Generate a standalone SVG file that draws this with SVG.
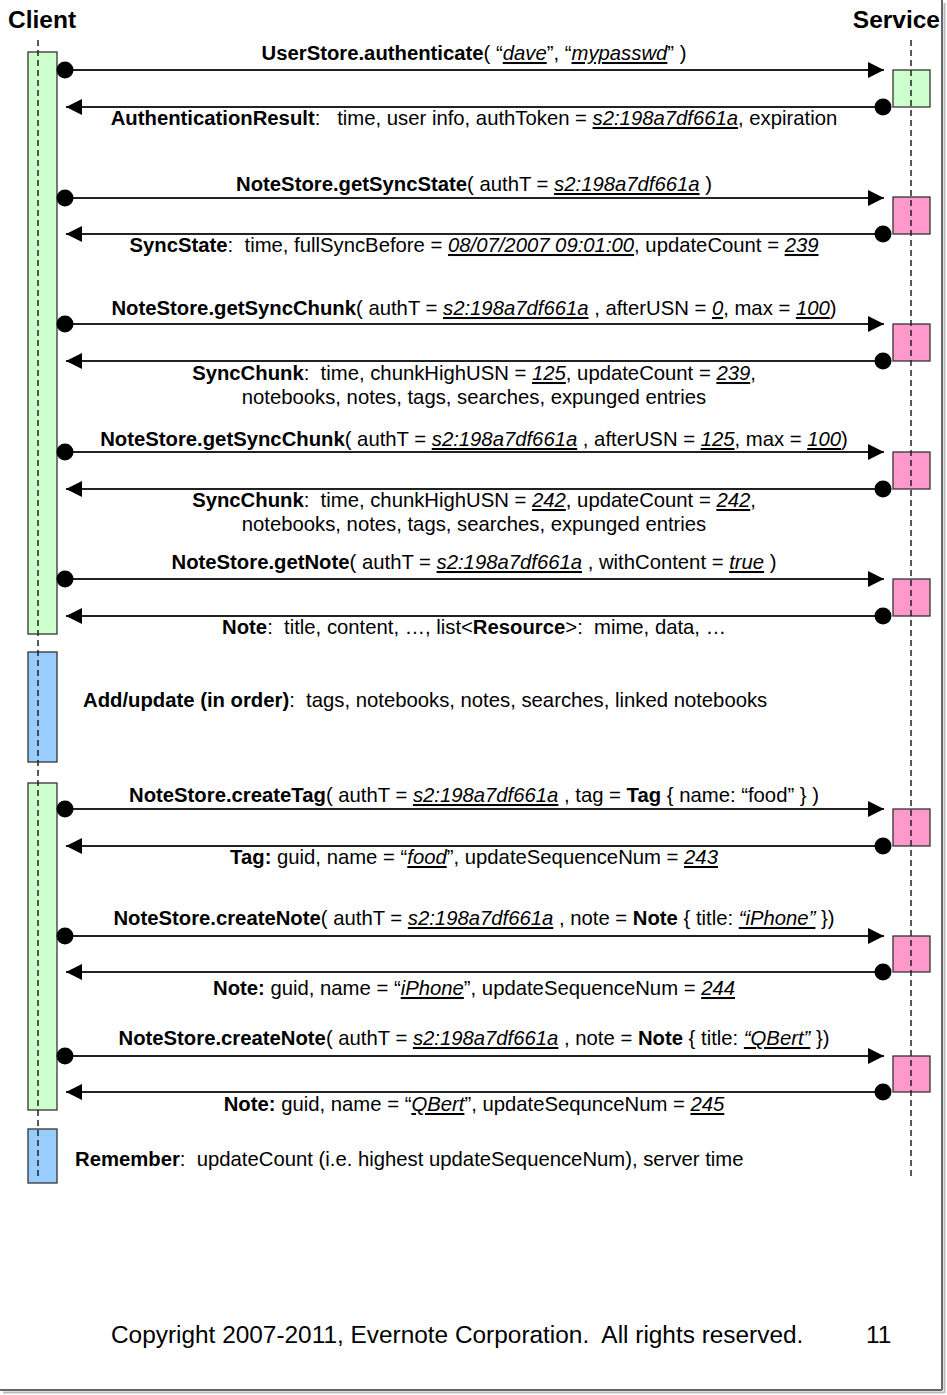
<svg xmlns="http://www.w3.org/2000/svg" width="947" height="1395" viewBox="0 0 947 1395">
<style>
text{font-family:"Liberation Sans",Arial,sans-serif;font-size:20.3px;fill:#000;white-space:pre}
.c{text-anchor:middle}
.b{font-weight:bold}
.v{font-style:italic;text-decoration:underline}
.title{font-size:24.5px;font-weight:bold}
.foot{font-size:24.4px}
.life{stroke:#222;stroke-width:1.5;stroke-dasharray:6 4;fill:none}
.act{stroke:#333;stroke-width:1.3}
.g{fill:#ccffcc}
.bl{fill:#99ccff}
.p{fill:#ff99cc}
.msg{stroke:#222;stroke-width:2;fill:none}
</style>
<defs>
<marker id="ah" viewBox="0 0 16 16" refX="16" refY="8" markerWidth="16" markerHeight="16" markerUnits="userSpaceOnUse" orient="auto">
<path d="M0,0 L16,8 L0,16 Z" fill="#000"/>
</marker>
<marker id="dot" viewBox="0 0 18 18" refX="9" refY="9" markerWidth="18" markerHeight="18" markerUnits="userSpaceOnUse" orient="auto">
<circle cx="9" cy="9" r="8.5" fill="#000"/>
</marker>
</defs>
<rect width="947" height="1395" fill="#fff"/>
<g id="frame">
<line x1="942" y1="0" x2="942" y2="1390" stroke="#666" stroke-width="2"/>
<line x1="0" y1="1390" x2="942" y2="1390" stroke="#666" stroke-width="2"/>
<line x1="944.5" y1="3" x2="944.5" y2="1393" stroke="#bbb" stroke-width="2"/>
<line x1="3" y1="1392.5" x2="944" y2="1392.5" stroke="#bbb" stroke-width="2"/>
</g>
<g id="client">
<text x="8" y="28" class="title">Client</text>
<rect class="act g" x="28" y="52" width="29" height="582"/>
<rect class="act bl" x="28" y="652" width="29" height="110"/>
<rect class="act g" x="28" y="783" width="29" height="327"/>
<rect class="act bl" x="28" y="1129" width="29" height="54"/>
<line class="life" x1="38" y1="40" x2="38" y2="1180"/>
</g>
<g id="service">
<text x="940" y="28" class="title" text-anchor="end">Service</text>
<rect class="act g" x="893" y="70" width="37" height="37"/>
<rect class="act p" x="893" y="197" width="37" height="37"/>
<rect class="act p" x="893" y="324" width="37" height="37"/>
<rect class="act p" x="893" y="452" width="37" height="37"/>
<rect class="act p" x="893" y="579" width="37" height="37"/>
<rect class="act p" x="893" y="809" width="37" height="37"/>
<rect class="act p" x="893" y="936" width="37" height="36"/>
<rect class="act p" x="893" y="1056" width="37" height="36"/>
<line class="life" x1="911" y1="40" x2="911" y2="1178"/>
</g>
<g id="connectors">
<line class="msg" x1="65" y1="70" x2="884" y2="70" marker-start="url(#dot)" marker-end="url(#ah)"/>
<line class="msg" x1="883" y1="107" x2="66" y2="107" marker-start="url(#dot)" marker-end="url(#ah)"/>
<line class="msg" x1="65" y1="198" x2="884" y2="198" marker-start="url(#dot)" marker-end="url(#ah)"/>
<line class="msg" x1="883" y1="234" x2="66" y2="234" marker-start="url(#dot)" marker-end="url(#ah)"/>
<line class="msg" x1="65" y1="324" x2="884" y2="324" marker-start="url(#dot)" marker-end="url(#ah)"/>
<line class="msg" x1="883" y1="361" x2="66" y2="361" marker-start="url(#dot)" marker-end="url(#ah)"/>
<line class="msg" x1="65" y1="452" x2="884" y2="452" marker-start="url(#dot)" marker-end="url(#ah)"/>
<line class="msg" x1="883" y1="489" x2="66" y2="489" marker-start="url(#dot)" marker-end="url(#ah)"/>
<line class="msg" x1="65" y1="579" x2="884" y2="579" marker-start="url(#dot)" marker-end="url(#ah)"/>
<line class="msg" x1="883" y1="616" x2="66" y2="616" marker-start="url(#dot)" marker-end="url(#ah)"/>
<line class="msg" x1="65" y1="809" x2="884" y2="809" marker-start="url(#dot)" marker-end="url(#ah)"/>
<line class="msg" x1="883" y1="846" x2="66" y2="846" marker-start="url(#dot)" marker-end="url(#ah)"/>
<line class="msg" x1="65" y1="936" x2="884" y2="936" marker-start="url(#dot)" marker-end="url(#ah)"/>
<line class="msg" x1="883" y1="972" x2="66" y2="972" marker-start="url(#dot)" marker-end="url(#ah)"/>
<line class="msg" x1="65" y1="1056" x2="884" y2="1056" marker-start="url(#dot)" marker-end="url(#ah)"/>
<line class="msg" x1="883" y1="1092" x2="66" y2="1092" marker-start="url(#dot)" marker-end="url(#ah)"/>
</g>
<g id="labels">
<text x="474" y="60" class="c"><tspan class="b">UserStore.authenticate</tspan>( “<tspan class="v">dave</tspan>”, “<tspan class="v">mypasswd</tspan>” )</text>
<text x="474" y="125" class="c"><tspan class="b">AuthenticationResult</tspan>:   time, user info, authToken = <tspan class="v">s2:198a7df661a</tspan>, expiration</text>
<text x="474" y="191" class="c"><tspan class="b">NoteStore.getSyncState</tspan>( authT = <tspan class="v">s2:198a7df661a</tspan> )</text>
<text x="474" y="252" class="c"><tspan class="b">SyncState</tspan>:  time, fullSyncBefore = <tspan class="v">08/07/2007 09:01:00</tspan>, updateCount = <tspan class="v">239</tspan></text>
<text x="474" y="315" class="c"><tspan class="b">NoteStore.getSyncChunk</tspan>( authT = <tspan class="v">s2:198a7df661a</tspan> , afterUSN = <tspan class="v">0</tspan>, max = <tspan class="v">100</tspan>)</text>
<text x="474" y="380" class="c"><tspan class="b">SyncChunk</tspan>:  time, chunkHighUSN = <tspan class="v">125</tspan>, updateCount = <tspan class="v">239</tspan>,</text>
<text x="474" y="404" class="c">notebooks, notes, tags, searches, expunged entries</text>
<text x="474" y="446" class="c"><tspan class="b">NoteStore.getSyncChunk</tspan>( authT = <tspan class="v">s2:198a7df661a</tspan> , afterUSN = <tspan class="v">125</tspan>, max = <tspan class="v">100</tspan>)</text>
<text x="474" y="507" class="c"><tspan class="b">SyncChunk</tspan>:  time, chunkHighUSN = <tspan class="v">242</tspan>, updateCount = <tspan class="v">242</tspan>,</text>
<text x="474" y="531" class="c">notebooks, notes, tags, searches, expunged entries</text>
<text x="474" y="569" class="c"><tspan class="b">NoteStore.getNote</tspan>( authT = <tspan class="v">s2:198a7df661a</tspan> , withContent = <tspan class="v">true</tspan> )</text>
<text x="474" y="634" class="c"><tspan class="b">Note</tspan>:  title, content, …, list&lt;<tspan class="b">Resource</tspan>&gt;:  mime, data, …</text>
<text x="83" y="707"><tspan class="b">Add/update (in order)</tspan>:  tags, notebooks, notes, searches, linked notebooks</text>
<text x="474" y="802" class="c"><tspan class="b">NoteStore.createTag</tspan>( authT = <tspan class="v">s2:198a7df661a</tspan> , tag = <tspan class="b">Tag</tspan> { name: “food” } )</text>
<text x="474" y="864" class="c"><tspan class="b">Tag:</tspan> guid, name = “<tspan class="v">food</tspan>”, updateSequenceNum = <tspan class="v">243</tspan></text>
<text x="474" y="925" class="c"><tspan class="b">NoteStore.createNote</tspan>( authT = <tspan class="v">s2:198a7df661a</tspan> , note = <tspan class="b">Note</tspan> { title: <tspan class="v">“iPhone”</tspan> })</text>
<text x="474" y="995" class="c"><tspan class="b">Note:</tspan> guid, name = “<tspan class="v">iPhone</tspan>”, updateSequenceNum = <tspan class="v">244</tspan></text>
<text x="474" y="1045" class="c"><tspan class="b">NoteStore.createNote</tspan>( authT = <tspan class="v">s2:198a7df661a</tspan> , note = <tspan class="b">Note</tspan> { title: <tspan class="v">“QBert”</tspan> })</text>
<text x="474" y="1111" class="c"><tspan class="b">Note:</tspan> guid, name = “<tspan class="v">QBert</tspan>”, updateSequnceNum = <tspan class="v">245</tspan></text>
<text x="75" y="1166"><tspan class="b">Remember</tspan>:  updateCount (i.e. highest updateSequenceNum), server time</text>
</g>
<g id="footer">
<text x="111" y="1343" class="foot">Copyright 2007-2011, Evernote Corporation.  All rights reserved.</text>
<text x="866" y="1343" class="foot">11</text>
</g>
</svg>
